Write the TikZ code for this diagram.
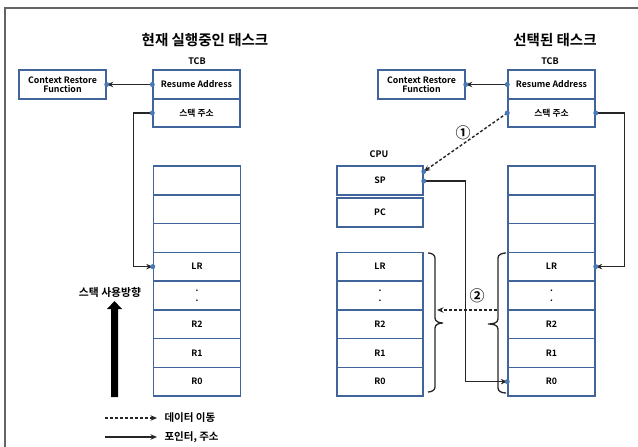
\documentclass[tikz,border=0pt]{standalone}
\usepackage{fontspec}
\setmainfont{Noto Sans CJK KR}[BoldFont=* Bold]
\usetikzlibrary{arrows.meta}
\definecolor{boxblue}{RGB}{65,101,154}
\definecolor{dotblue}{RGB}{74,120,181}
\definecolor{framegray}{RGB}{100,100,100}
\tikzset{
  cell/.style={draw=boxblue, line width=1.5pt, fill=white, minimum width=87pt, minimum height=28.75pt, inner sep=0pt, align=center, font=\bfseries\fontsize{8.8}{10}\selectfont},
  conn/.style={line width=1.4pt, draw=black!85, -{Stealth[length=6.5pt,width=5.5pt]}},
  dconn/.style={conn, dash pattern=on 3pt off 2pt},
  gdot/.style={fill=dotblue, draw=none, circle, inner sep=0pt, minimum size=5pt},
  title/.style={font=\bfseries\fontsize{14.5}{16}\selectfont},
  lbl/.style={font=\bfseries\fontsize{9}{11}\selectfont},
  legend/.style={font=\bfseries\fontsize{10.5}{12}\selectfont, anchor=west},
  numlbl/.style={font=\bfseries\fontsize{15}{16}\selectfont}
}
\begin{document}
\begin{tikzpicture}[x=1pt,y=-1pt]
\useasboundingbox (0,0) rectangle (638,447);
% frame
\draw[framegray, line width=1.5pt] (5,447) -- (5,8) -- (638,8);

% ---------- left: current task ----------
\node[title] (titleL) at (205,40) {현재 실행중인 태스크};
\node[lbl] (tcbLlbl) at (197,61) {TCB};
\node[cell, minimum height=29pt] (tcbLres) at (196.5,84.5) {Resume Address};
\node[cell, minimum height=28pt] (tcbLaddr) at (196.5,113) {스택 주소};
\node[cell, minimum height=29pt] (ctxL) at (62.5,84.5) {Context Restore\\[-1pt]Function};

\foreach \i/\t in {1/,2/,3/,4/LR,6/R2,7/R1,8/R0}{
  \node[cell] (sL\i) at (197,{166+28.75*(\i-0.5)}) {\t};
}
\node[cell] (sL5) at (197,{166+28.75*4.5}) {.\\[0pt].};

% left stack direction
\node[lbl, font=\bfseries\fontsize{10.8}{12}\selectfont] (dirlbl) at (110,292) {스택 사용방향};
\fill[black] (111,397) -- (111,309) -- (107,309) -- (114.5,301) -- (122,309) -- (118,309) -- (118,397) -- cycle;

% left connectors
\draw[conn] (tcbLres.west) -- (ctxL.east);
\node[gdot] at (tcbLres.west) {};
\node[gdot] at (ctxL.east) {};
\draw[conn] (tcbLaddr.west) -- +(-19,0) |- (sL4.west);
\node[gdot] at (tcbLaddr.west) {};
\node[gdot] at (sL4.west) {};

% ---------- right: selected task ----------
\node[title] (titleR) at (555,40) {선택된 태스크};
\node[lbl] (tcbRlbl) at (550,61) {TCB};
\node[cell, minimum height=29pt] (tcbRres) at (551.5,84.5) {Resume Address};
\node[cell, minimum height=28pt] (tcbRaddr) at (551.5,113) {스택 주소};
\node[cell, minimum height=29pt] (ctxR) at (421.5,84.5) {Context Restore\\[-1pt]Function};

\node[lbl] (cpulbl) at (379,154) {CPU};
\node[cell, minimum width=86pt, minimum height=29pt] (sp) at (380,180.5) {SP};
\node[cell, minimum width=86pt, minimum height=29pt] (pc) at (380,212.5) {PC};

\foreach \i/\t in {4/LR,6/R2,7/R1,8/R0}{
  \node[cell, minimum width=86pt] (oL\i) at (380,{166+28.75*(\i-0.5)}) {\t};
}
\node[cell, minimum width=86pt] (oL5) at (380,{166+28.75*4.5}) {.\\[0pt].};

\foreach \i/\t in {1/,2/,3/,4/LR,6/R2,7/R1,8/R0}{
  \node[cell] (sR\i) at (551.5,{166+28.75*(\i-0.5)}) {\t};
}
\node[cell] (sR5) at (551.5,{166+28.75*4.5}) {.\\[0pt].};

% braces
\draw[line width=1.3pt, black!85] (428,253) to[out=0,in=90] (435,258) -- (435,318)
  to[out=-90,in=180] (443,323) to[out=180,in=90] (435,328) -- (435,387) to[out=-90,in=0] (428,392);
\draw[line width=1.3pt, black!85] (506,253) to[out=180,in=90] (498,258) -- (498,319)
  to[out=-90,in=0] (488,324) to[out=0,in=90] (498,329) -- (498,388) to[out=-90,in=180] (506,393);
\coordinate (braceR) at (497,310);
\coordinate (braceL) at (437,310);

% right connectors
\draw[conn] (tcbRres.west) -- (ctxR.east);
\node[gdot] at (tcbRres.west) {};
\node[gdot] at (ctxR.east) {};
\draw[conn] (tcbRaddr.east) -- +(29,0) |- (sR4.east);
\node[gdot] at (tcbRaddr.east) {};
\node[gdot] at (sR4.east) {};
\draw[dconn] (tcbRaddr.west) -- ([yshift=9pt]sp.east);
\node[gdot] at (tcbRaddr.west) {};
\node[gdot] at ([yshift=9pt]sp.east) {};
\node[numlbl] (n1) at (463,133) {①};
\draw[conn] ([yshift=-0.5pt]sp.east) -- +(42,0) |- (sR8.west);
\node[gdot] at ([yshift=-0.5pt]sp.east) {};
\node[gdot] at (sR8.west) {};
\draw[dconn] (braceR) -- (braceL);
\node[numlbl] (n2) at (477,296) {②};

% legend
\coordinate (lg1a) at (105,418);
\coordinate (lg1b) at (157,418);
\coordinate (lg2a) at (105,437);
\coordinate (lg2b) at (157,437);
\draw[dconn] (lg1a) -- (lg1b);
\draw[conn] (lg2a) -- (lg2b);
\node[legend] (lgt1) at (161,418) {데이터 이동};
\node[legend] (lgt2) at (161,437) {포인터, 주소};
\end{tikzpicture}
\end{document}
